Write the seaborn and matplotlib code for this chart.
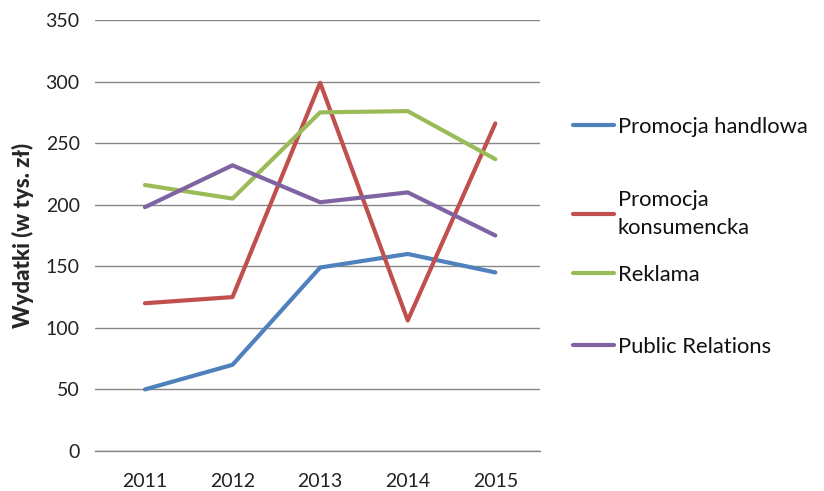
import matplotlib
matplotlib.use("Agg")
import matplotlib.pyplot as plt
import seaborn as sns
import pandas as pd
from matplotlib.ticker import FixedLocator

years = ["2011", "2012", "2013", "2014", "2015"]
series_names = ["Promocja handlowa", "Promocja\nkonsumencka", "Reklama", "Public Relations"]
promocja_handlowa = [50, 70, 149, 160, 145]
promocja_konsumencka = [120, 125, 299, 106, 266]
reklama = [216, 205, 275, 276, 237]
public_relations = [198, 232, 202, 210, 175]
y_ticks = [0, 50, 100, 150, 200, 250, 300, 350]
colors = ["#4F81BD", "#C0504D", "#9BBB59", "#8064A2"]

values = [promocja_handlowa, promocja_konsumencka, reklama, public_relations]
rows = []
for name, vals in zip(series_names, values):
    for i, (yr, v) in enumerate(zip(years, vals)):
        rows.append({"pos": i, "year": yr, "value": v, "series": name})
df = pd.DataFrame(rows)

sns.set_style("white")
plt.rcParams["font.family"] = ["Lato", "DejaVu Sans"]

fig = plt.figure(figsize=(8.24, 4.91), dpi=100)
ax = fig.add_axes([95 / 824, 40 / 491, 445 / 824, 431 / 491])

sns.lineplot(data=df, x="pos", y="value", hue="series", palette=colors,
             hue_order=series_names, linewidth=3, sort=False, legend=False, ax=ax)

ax.set_xlim(-0.57, 4.51)
ax.set_ylim(0, 350)
ax.set_yticks(y_ticks)
ax.set_yticklabels([str(t) for t in y_ticks])
ax.set_xticks(range(len(years)))
ax.set_xticklabels(years)
ax.xaxis.set_minor_locator(FixedLocator([0.5, 1.5, 2.5, 3.5, 4.5]))
ax.tick_params(axis="x", which="major", length=0, pad=16, labelsize=14, colors="#222222")
ax.tick_params(axis="x", which="minor", length=6, width=1, color="#868686", direction="out")
ax.tick_params(axis="y", length=0, pad=11, labelsize=14, colors="#222222")
ax.grid(axis="y", color="#868686", linewidth=1)
ax.grid(axis="x", visible=False)
for s in ["left", "right", "top"]:
    ax.spines[s].set_visible(False)
ax.spines["bottom"].set_color("#868686")
ax.spines["bottom"].set_linewidth(1)
ax.set_xlabel("")
ax.set_ylabel("Wydatki (w tys. zł)", fontsize=16, fontweight="black", labelpad=8)

lines = ax.get_lines()[:4]
legend_y = [127, 214, 275, 347]
for line, name, yc in zip(lines, series_names, legend_y):
    leg = fig.legend([line], [name], loc="center left",
                     bbox_to_anchor=(573 / 824, 1 - yc / 491), frameon=False,
                     fontsize=15.8, handlelength=1.85, handletextpad=0.2,
                     borderaxespad=0, borderpad=0)
    for t in leg.get_texts():
        t.set_color("#111111")
        t.set_linespacing(1.45)

fig.savefig("out.png", dpi=100)
